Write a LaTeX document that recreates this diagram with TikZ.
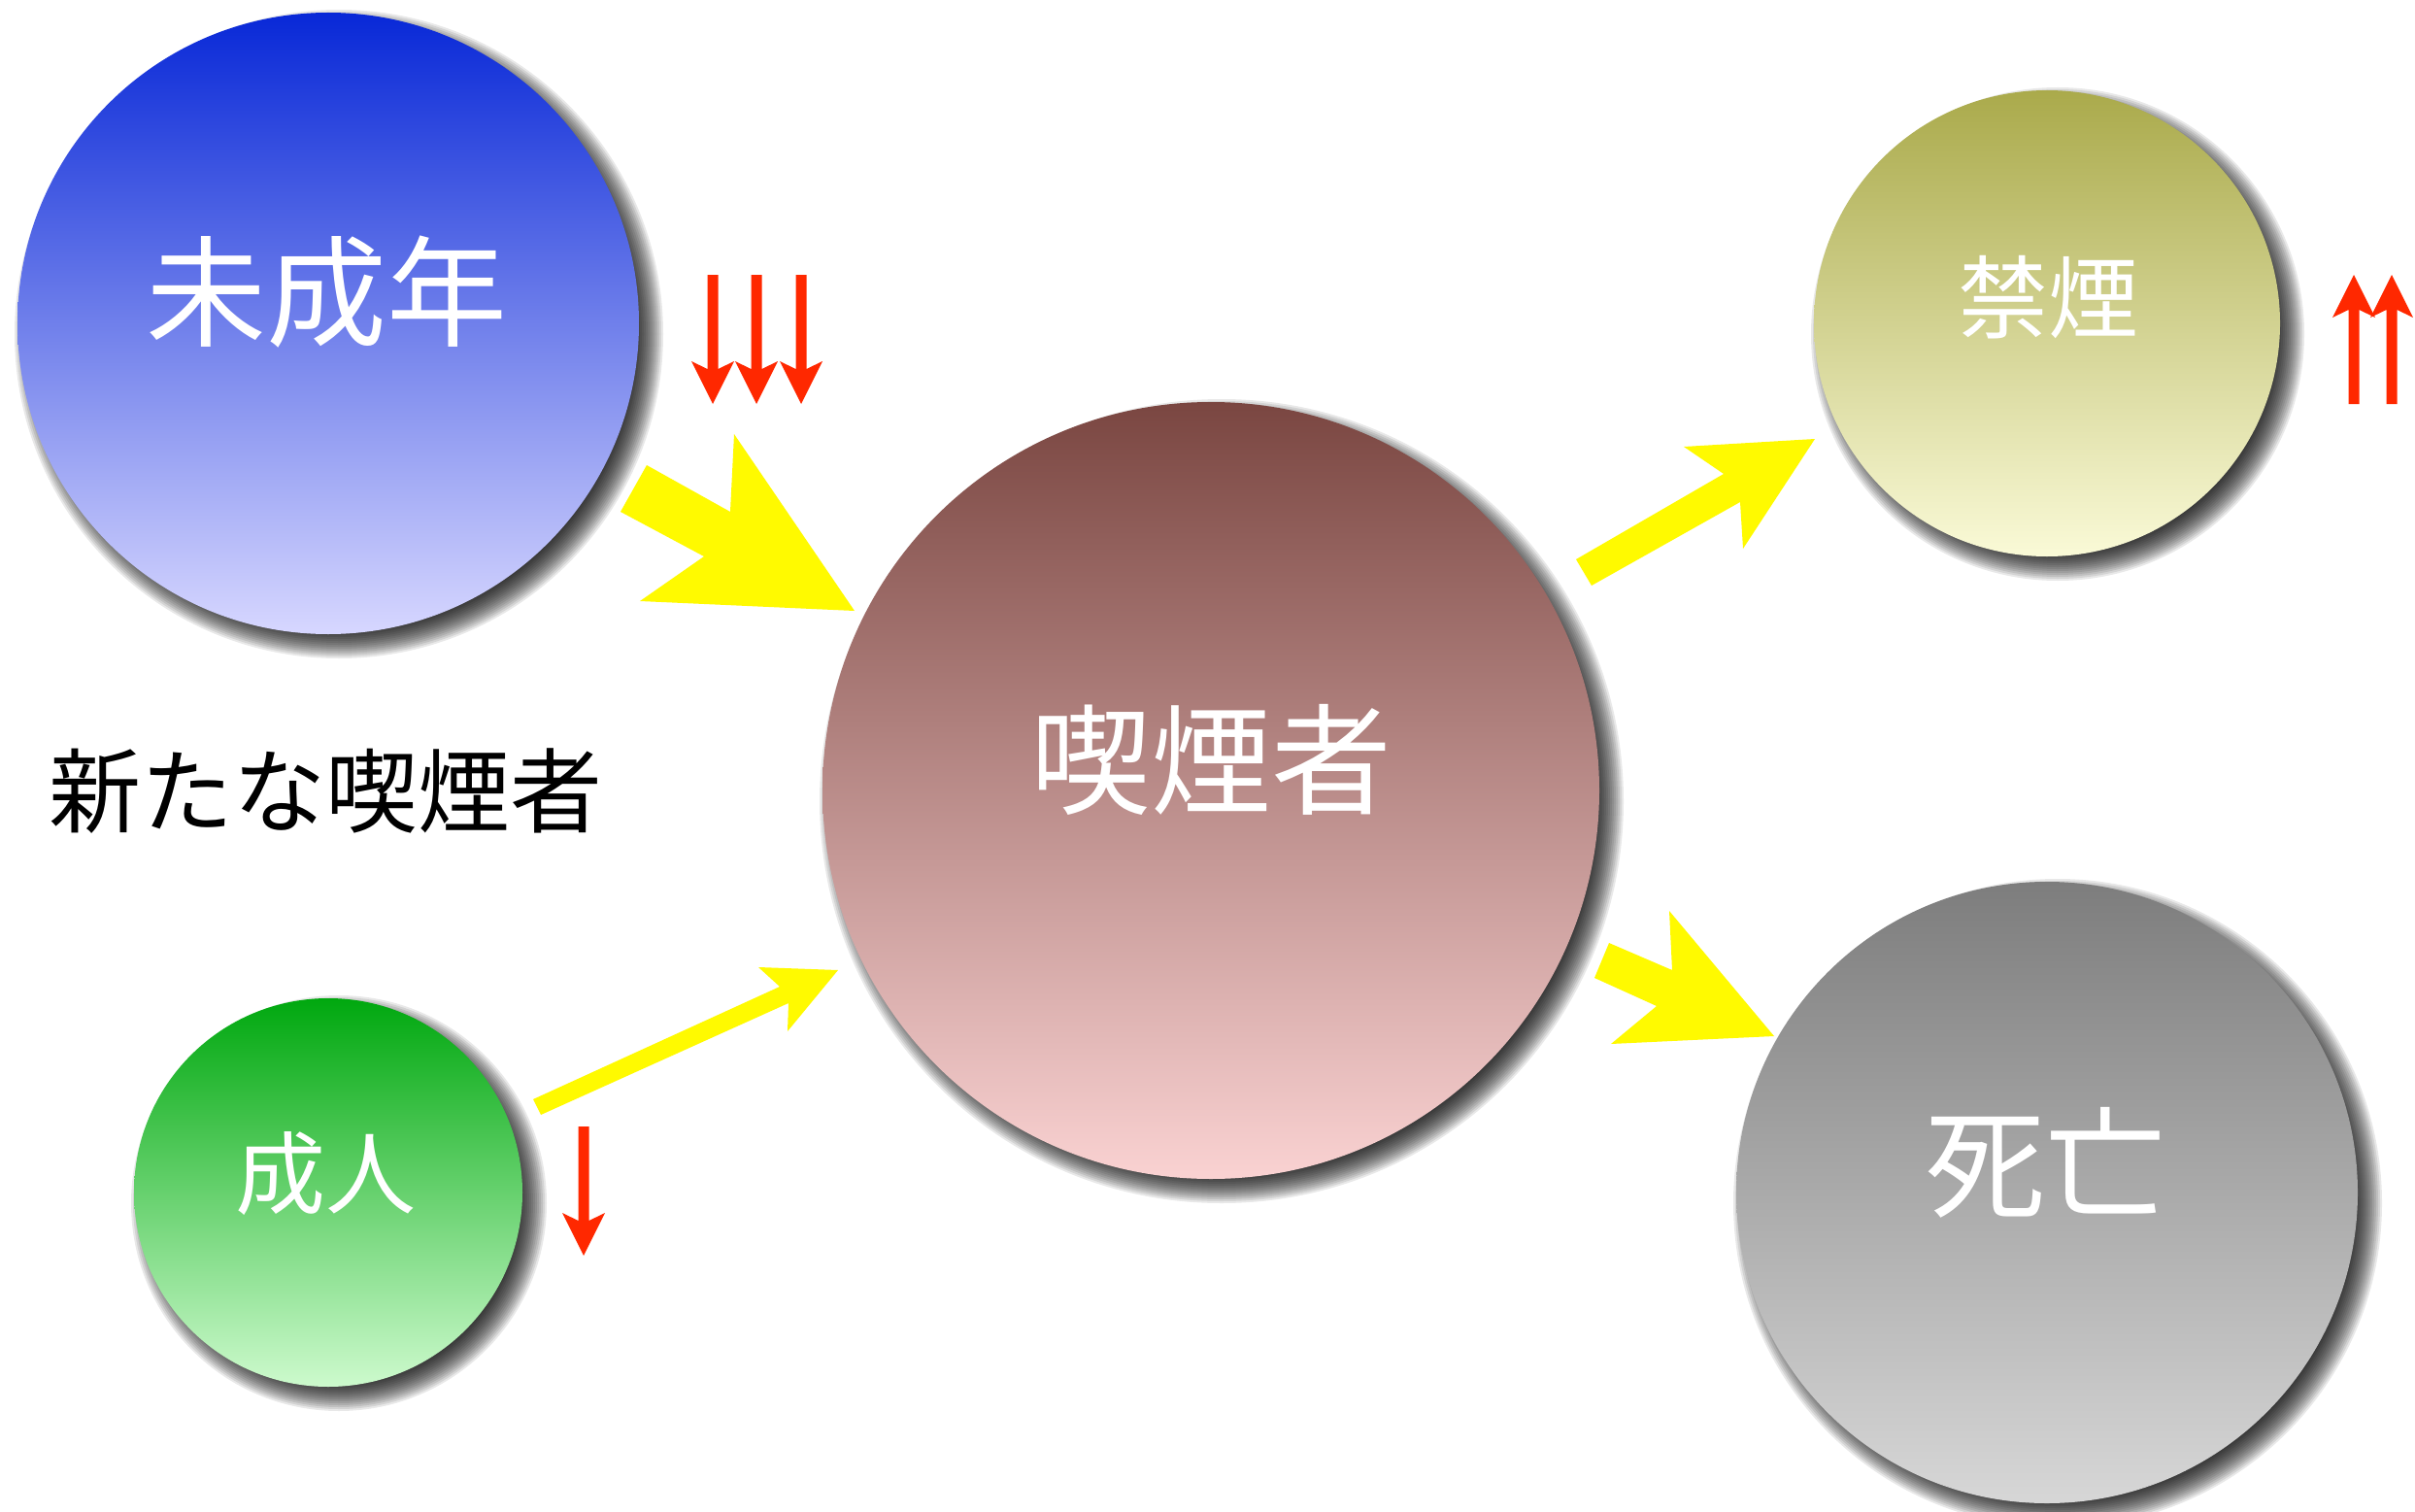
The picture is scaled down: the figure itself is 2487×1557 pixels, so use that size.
\documentclass[tikz,border=0pt]{standalone}
\usepackage{fontspec}
\newfontfamily\jp{Noto Sans CJK JP}
\definecolor{redarrow}{RGB}{255,40,0}
\definecolor{yellowarrow}{RGB}{255,250,0}
\definecolor{teenT}{RGB}{8,40,215}
\definecolor{teenB}{RGB}{215,215,255}
\definecolor{adultT}{RGB}{0,168,15}
\definecolor{adultB}{RGB}{205,250,205}
\definecolor{smokT}{RGB}{122,70,65}
\definecolor{smokB}{RGB}{250,210,210}
\definecolor{quitT}{RGB}{170,170,75}
\definecolor{quitB}{RGB}{250,250,215}
\definecolor{deadT}{RGB}{125,125,125}
\definecolor{deadB}{RGB}{215,215,215}
\tikzset{
  yarrow/.style={fill=yellowarrow, draw=none},
  rarrow/.style={fill=redarrow, draw=none},
  bigtxt/.style={text=white, inner sep=0pt, font=\jp\fontsize{124}{124}\selectfont},
  midtxt/.style={text=white, inner sep=0pt, font=\jp\fontsize{93}{93}\selectfont},
  blacktxt/.style={text=black, inner sep=0pt, font=\jp\fontsize{95}{95}\selectfont},
}
\newcommand\bubble[6]{%
  \foreach \i in {0,...,14}{\fill[black,opacity=0.09] (#2+11,#3-11) circle ({#4+14-2*\i});}
  \shade[top color=#5,bottom color=#6] (#2,#3) circle (#4);
  \coordinate (#1) at (#2,#3);
}
\newcommand\rdown[4]{% name, x, top, tip  (y downward)
  \fill[rarrow] (#2-5.5,#3) -- (#2+5.5,#3) -- (#2+5.5,#4-36) -- (#2+22,#4-44) -- (#2,#4) coordinate (#1)
    -- (#2-22,#4-44) -- (#2-5.5,#4-36) -- cycle;
}
\newcommand\rup[4]{% name, x, bottom, tip (y downward)
  \fill[rarrow] (#2-5.5,#3) -- (#2+5.5,#3) -- (#2+5.5,#4+36) -- (#2+22,#4+44) -- (#2,#4) coordinate (#1)
    -- (#2-22,#4+44) -- (#2-5.5,#4+36) -- cycle;
}
\begin{document}
\begin{tikzpicture}[x=1pt,y=1pt]
\useasboundingbox (0,0) rectangle (2487,-1557);
\fill[white] (0,0) rectangle (2487,-1557);
% circles
\bubble{teen}{338}{-333}{320}{teenT}{teenB}
\bubble{adult}{338}{-1228}{200}{adultT}{adultB}
\bubble{smoker}{1247}{-814}{400}{smokT}{smokB}
\bubble{quit}{2108}{-333}{240}{quitT}{quitB}
\bubble{dead}{2108}{-1228}{320}{deadT}{deadB}
% labels
\node[bigtxt] (tteen) at (336,-301) {未成年};
\node[bigtxt] (tsmoker) at (1247,-782) {喫煙者};
\node[bigtxt] (tdead) at (2106,-1197) {死亡};
\node[midtxt] (tquit) at (2109,-306) {禁煙};
\node[midtxt] (tadult) at (335,-1209) {成人};
\node[blacktxt] (tnew) at (335,-815) {新たな喫煙者};
\begin{scope}[yscale=-1]
% yellow arrows
\fill[yarrow] (666,479) -- (752,527) -- (756,447) -- (880,629) -- (659,619) -- (725,573) -- (639,527) -- cycle;
\fill[yarrow] (1623,576) -- (1775,488) -- (1734,460) -- (1869,452) -- (1795,565) -- (1792,517) -- (1639,603) -- cycle;
\fill[yarrow] (549,1132) -- (803,1016) -- (781,996) -- (863,999) -- (811,1062) -- (812,1033) -- (557,1148) -- cycle;
\fill[yarrow] (1657,971) -- (1722,999) -- (1719,938) -- (1827,1067) -- (1659,1075) -- (1706,1036) -- (1642,1007) -- cycle;
% red arrows
\rdown{ra}{734}{283}{416}
\rdown{rb}{779}{283}{416}
\rdown{rc}{825}{283}{416}
\rup{ua}{2424}{416}{283}
\rup{ub}{2463}{416}{283}
\rdown{rd}{601}{1160}{1293}
\end{scope}
\end{tikzpicture}
\end{document}
